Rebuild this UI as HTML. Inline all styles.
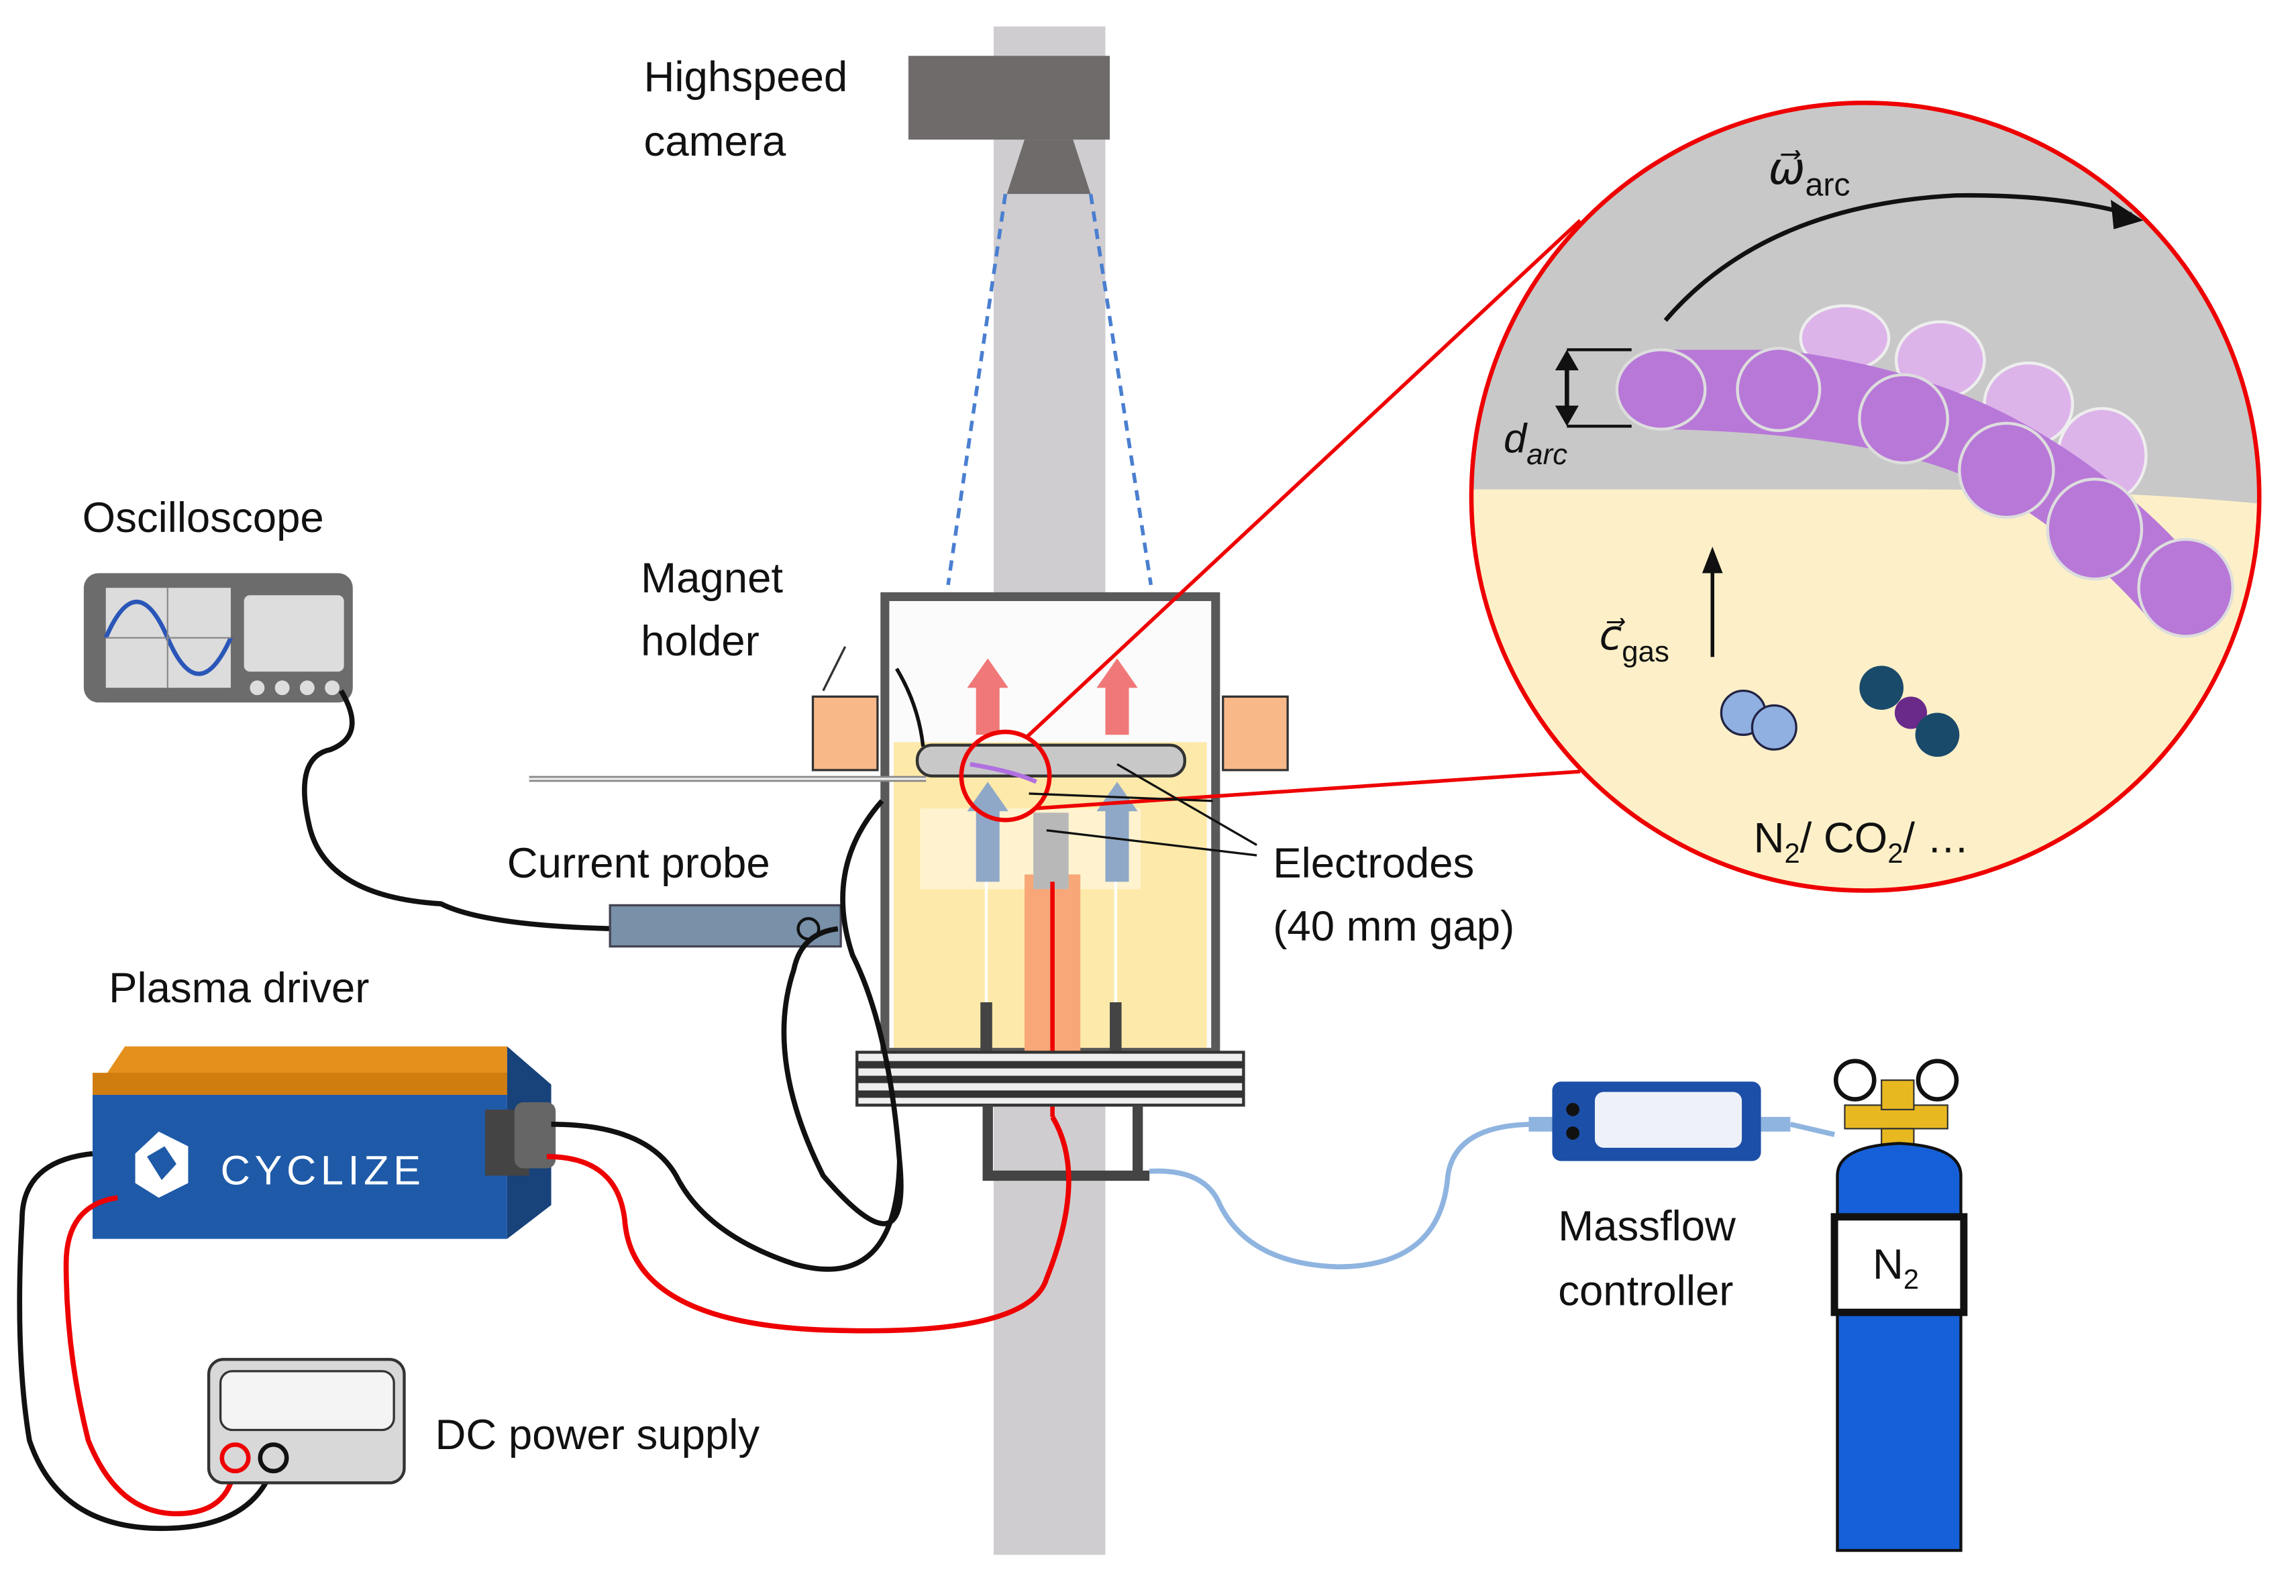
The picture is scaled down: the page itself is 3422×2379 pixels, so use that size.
<!DOCTYPE html>
<html><head><meta charset="utf-8"><style>html,body{margin:0;padding:0;background:#fff}svg{display:block}text{font-family:"Liberation Sans",sans-serif;fill:#111}</style></head>
<body>
<svg width="3422" height="2379" viewBox="0 0 1562 1086" preserveAspectRatio="none" xmlns="http://www.w3.org/2000/svg">
<rect width="1562" height="1086" fill="#fff"/>
<!-- pole -->
<rect x="676" y="18" width="76" height="1040" fill="#d0cdd0"/>
<!-- camera -->
<rect x="618" y="38" width="137" height="57" fill="#6f6b6b"/>
<polygon points="697,95 730,95 742,132 685,132" fill="#6f6b6b"/>
<line x1="684" y1="132" x2="645" y2="398" stroke="#4a7fd0" stroke-width="2.5" stroke-dasharray="7,5"/>
<line x1="742" y1="132" x2="783" y2="398" stroke="#4a7fd0" stroke-width="2.5" stroke-dasharray="7,5"/>
<text x="438" y="62" font-size="29">Highspeed</text>
<text x="438" y="106" font-size="29">camera</text>
<!-- reactor -->
<rect x="602" y="406" width="225" height="310" fill="#fbfbfb"/>
<rect x="608" y="505" width="213" height="208" fill="#fde9a9"/>
<rect x="626" y="550" width="150" height="55" fill="#fff3cf"/>
<rect x="602" y="406" width="225" height="310" fill="none" stroke="#595959" stroke-width="6"/>
<rect x="553" y="474" width="44" height="50" fill="#f8b888" stroke="#333" stroke-width="1.5"/>
<rect x="832" y="474" width="44" height="50" fill="#f8b888" stroke="#333" stroke-width="1.5"/>
<line x1="560" y1="470" x2="575" y2="440" stroke="#333" stroke-width="1.5"/>
<path d="M610,455 Q625,480 628,508" stroke="#111" stroke-width="2.5" fill="none"/>
<!-- red arrows -->
<polygon points="664,500 664,468 658,468 672,448 686,468 680,468 680,500" fill="#f07878"/>
<polygon points="752,500 752,468 746,468 760,448 774,468 768,468 768,500" fill="#f07878"/>
<!-- blue arrows -->
<polygon points="664,600 664,552 658,552 672,532 686,552 680,552 680,600" fill="#8fa8c8"/>
<polygon points="752,600 752,552 746,552 760,532 774,552 768,552 768,600" fill="#8fa8c8"/>
<!-- electrodes -->
<rect x="624" y="507" width="182" height="21" rx="10" fill="#c8c8c8" stroke="#333" stroke-width="2"/>
<rect x="697" y="595" width="38" height="120" fill="#f8a878"/>
<rect x="703" y="553" width="24" height="52" fill="#b8b8b8"/>
<line x1="716" y1="600" x2="716" y2="760" stroke="#e00" stroke-width="3"/>
<rect x="667" y="682" width="8" height="33" fill="#444"/>
<rect x="755" y="682" width="8" height="33" fill="#444"/>
<line x1="671" y1="600" x2="671" y2="682" stroke="#fff" stroke-width="2"/>
<line x1="759" y1="600" x2="759" y2="682" stroke="#fff" stroke-width="2"/>
<path d="M660,520 Q690,525 705,532" stroke="#b070e0" stroke-width="3" fill="none"/>
<line x1="360" y1="530" x2="630" y2="530" stroke="#888" stroke-width="4"/>
<line x1="360" y1="530" x2="630" y2="530" stroke="#eee" stroke-width="1.5"/>
<!-- flange -->
<rect x="583" y="716" width="263" height="36" fill="#eee" stroke="#333" stroke-width="2"/>
<rect x="583" y="722" width="263" height="5" fill="#333"/>
<rect x="583" y="732" width="263" height="5" fill="#333"/>
<rect x="583" y="742" width="263" height="5" fill="#333"/>
<path d="M672,752 V800 H782 M774,752 V800" stroke="#444" stroke-width="7" fill="none"/>
<!-- zoom lines -->
<circle cx="684" cy="528" r="30" fill="none" stroke="#e00" stroke-width="3"/>
<line x1="698" y1="502" x2="1075" y2="150" stroke="#e00" stroke-width="2.5"/>
<line x1="705" y1="550" x2="1075" y2="525" stroke="#e00" stroke-width="2.5"/>
<line x1="700" y1="540" x2="825" y2="545" stroke="#111" stroke-width="1.5"/>
<line x1="712" y1="565" x2="855" y2="582" stroke="#111" stroke-width="1.5"/>
<line x1="760" y1="520" x2="855" y2="575" stroke="#111" stroke-width="1.5"/>
<text x="866" y="597" font-size="29">Electrodes</text>
<text x="866" y="640" font-size="29">(40 mm gap)</text>
<text x="436" y="403" font-size="29">Magnet</text>
<text x="436" y="446" font-size="29">holder</text>
<!-- big circle -->
<defs><clipPath id="cc"><circle cx="1269" cy="338" r="268"/></clipPath></defs>
<g clip-path="url(#cc)">
<rect x="990" y="60" width="570" height="560" fill="#c8c8c8"/>
<path d="M990,333 L1300,333 Q1450,333 1560,345 L1560,620 L990,620Z" fill="#fdf0c8"/>
<g fill="#ddb4ea" stroke="#eee" stroke-width="2">
<ellipse cx="1255" cy="230" rx="30" ry="22"/><ellipse cx="1320" cy="245" rx="30" ry="26"/><ellipse cx="1380" cy="275" rx="30" ry="28"/><ellipse cx="1430" cy="310" rx="30" ry="32"/>
</g>
<path d="M1130,238 L1210,238 Q1310,250 1380,290 Q1450,330 1500,390 L1465,425 Q1420,370 1350,330 Q1280,295 1130,292 Z" fill="#b878d8"/>
<g fill="#b878d8" stroke="#ddd" stroke-width="2">
<ellipse cx="1130" cy="265" rx="30" ry="27"/><ellipse cx="1210" cy="265" rx="28" ry="28"/><ellipse cx="1295" cy="285" rx="30" ry="30"/><ellipse cx="1365" cy="320" rx="32" ry="32"/><ellipse cx="1425" cy="360" rx="32" ry="34"/><ellipse cx="1487" cy="400" rx="32" ry="33"/>
</g>
</g>
<circle cx="1269" cy="338" r="268" fill="none" stroke="#e00" stroke-width="3"/>
<path d="M1133,218 Q1200,140 1330,133 Q1400,132 1450,146" stroke="#111" stroke-width="3" fill="none"/>
<polygon points="1458,150 1436,136 1438,156" fill="#111"/>
<text x="1203" y="125" font-size="30" font-family="Liberation Serif" font-style="italic">ω⃗<tspan font-size="22" font-style="normal" dy="8">arc</tspan></text>
<line x1="1066" y1="244" x2="1066" y2="284" stroke="#111" stroke-width="3"/>
<polygon points="1066,238 1058,252 1074,252" fill="#111"/><polygon points="1066,290 1058,276 1074,276" fill="#111"/>
<line x1="1066" y1="238" x2="1110" y2="238" stroke="#111" stroke-width="2"/><line x1="1066" y1="290" x2="1110" y2="290" stroke="#111" stroke-width="2"/>
<text x="1023" y="308" font-size="28" font-family="Liberation Serif" font-style="italic">d<tspan font-size="20" dy="8">arc</tspan></text>
<line x1="1165" y1="447" x2="1165" y2="385" stroke="#111" stroke-width="2.5"/><polygon points="1165,372 1158,390 1172,390" fill="#111"/>
<text x="1088" y="442" font-size="28" font-family="Liberation Serif" font-style="italic">c⃗<tspan font-size="20" font-style="normal" dy="8">gas</tspan></text>
<circle cx="1186" cy="485" r="15" fill="#8fb0e0" stroke="#224" stroke-width="1.5"/><circle cx="1207" cy="495" r="15" fill="#8fb0e0" stroke="#224" stroke-width="1.5"/>
<circle cx="1280" cy="468" r="15" fill="#1a4a6a"/><circle cx="1300" cy="485" r="11" fill="#6a2a8a"/><circle cx="1318" cy="500" r="15" fill="#1a4a6a"/>
<text x="1193" y="580" font-size="29">N<tspan font-size="19" dy="7">2</tspan><tspan dy="-7">/ CO</tspan><tspan font-size="19" dy="7">2</tspan><tspan dy="-7">/ …</tspan></text>
<!-- oscilloscope -->
<text x="56" y="362" font-size="29">Oscilloscope</text>
<rect x="57" y="390" width="183" height="88" rx="10" fill="#6c6c6c"/>
<rect x="72" y="400" width="85" height="68" fill="#dcdcdc"/>
<path d="M72,434 Q93,385 114,434 T157,434" stroke="#2a56b8" stroke-width="3" fill="none"/>
<line x1="114" y1="400" x2="114" y2="468" stroke="#888"/><line x1="72" y1="434" x2="157" y2="434" stroke="#888"/>
<rect x="166" y="405" width="68" height="52" rx="4" fill="#ddd"/>
<circle cx="175" cy="468" r="5" fill="#ddd"/><circle cx="192" cy="468" r="5" fill="#ddd"/><circle cx="209" cy="468" r="5" fill="#ddd"/><circle cx="226" cy="468" r="5" fill="#ddd"/>
<path d="M232,470 Q250,500 225,510 Q200,515 210,560 Q220,610 300,615 Q330,630 420,632" stroke="#111" stroke-width="3.5" fill="none"/>
<!-- current probe -->
<text x="345" y="597" font-size="29">Current probe</text>
<rect x="415" y="616" width="157" height="28" fill="#7890a8" stroke="#445" stroke-width="1.5"/>
<circle cx="550" cy="632" r="7" fill="none" stroke="#111" stroke-width="2"/>
<path d="M570,632 Q545,635 540,660 Q520,720 560,800 Q620,870 612,790 Q605,700 580,650 Q560,590 600,545" stroke="#111" stroke-width="3.5" fill="none"/>
<!-- plasma driver -->
<text x="74" y="682" font-size="29">Plasma driver</text>
<polygon points="63,745 85,712 345,712 345,745" fill="#e5901c"/>
<polygon points="63,730 345,730 345,745 63,745" fill="#d07d10"/>
<rect x="63" y="745" width="282" height="98" fill="#1e5aa8"/>
<polygon points="345,712 375,738 375,820 345,843" fill="#17427a"/>
<rect x="330" y="755" width="30" height="45" fill="#444"/><rect x="350" y="750" width="28" height="45" rx="6" fill="#666"/>
<polygon points="92,785 108,770 128,780 128,805 108,815 92,805" fill="#fff"/>
<polygon points="100,787 112,780 120,792 110,803" fill="#1e5aa8"/>
<text x="150" y="806" font-size="28" fill="#fff" style="fill:#fff;letter-spacing:3px">CYCLIZE</text>
<path d="M375,765 Q440,765 460,800 Q480,840 540,860 Q610,880 612,790" stroke="#111" stroke-width="3.5" fill="none"/>
<path d="M372,787 Q420,787 425,830 Q430,900 560,905 Q700,910 712,870 Q740,800 716,760" stroke="#e00" stroke-width="3.5" fill="none"/>
<!-- DC supply -->
<path d="M63,785 Q15,790 15,830 Q10,920 20,980 Q40,1040 110,1040 Q170,1040 185,1000" stroke="#111" stroke-width="3.5" fill="none"/>
<path d="M80,815 Q45,820 45,860 Q45,920 60,980 Q80,1030 120,1030 Q160,1030 160,990" stroke="#e00" stroke-width="3.5" fill="none"/>
<rect x="142" y="925" width="133" height="84" rx="10" fill="#d8d8d8" stroke="#333" stroke-width="2"/>
<rect x="150" y="933" width="118" height="40" rx="8" fill="#f4f4f4" stroke="#333" stroke-width="1.5"/>
<circle cx="160" cy="992" r="9" fill="none" stroke="#e00" stroke-width="3"/>
<circle cx="186" cy="992" r="9" fill="none" stroke="#111" stroke-width="3"/>
<text x="296" y="986" font-size="29">DC power supply</text>
<!-- gas line -->
<path d="M782,797 Q820,795 830,820 Q850,860 910,862 Q980,862 985,800 Q990,765 1045,765" stroke="#8fb4e0" stroke-width="3.5" fill="none"/>
<rect x="1040" y="760" width="18" height="10" fill="#8fb4e0"/>
<rect x="1056" y="736" width="142" height="54" rx="6" fill="#1c4fa8"/>
<rect x="1085" y="743" width="100" height="38" rx="6" fill="#eef2f8"/>
<circle cx="1070" cy="755" r="4.5" fill="#111"/><circle cx="1070" cy="771" r="4.5" fill="#111"/>
<rect x="1198" y="760" width="20" height="10" fill="#8fb4e0"/>
<line x1="1218" y1="765" x2="1248" y2="772" stroke="#8fb4e0" stroke-width="3.5"/>
<text x="1060" y="844" font-size="29">Massflow</text>
<text x="1060" y="888" font-size="29">controller</text>
<!-- N2 cylinder -->
<circle cx="1262" cy="735" r="13" fill="#fff" stroke="#111" stroke-width="3"/>
<circle cx="1318" cy="735" r="13" fill="#fff" stroke="#111" stroke-width="3"/>
<rect x="1255" y="752" width="70" height="16" fill="#e8b820" stroke="#333"/>
<rect x="1280" y="735" width="22" height="20" fill="#e8b820" stroke="#333"/>
<rect x="1280" y="768" width="22" height="12" fill="#e8b820" stroke="#333"/>
<path d="M1250,800 Q1250,780 1292,778 Q1334,780 1334,800 L1334,1055 L1250,1055 Z" fill="#1560d8" stroke="#111" stroke-width="2"/>
<rect x="1248" y="828" width="88" height="65" fill="#fff" stroke="#111" stroke-width="5"/>
<text x="1274" y="870" font-size="29">N<tspan font-size="19" dy="7">2</tspan></text>
</svg>
</body></html>
